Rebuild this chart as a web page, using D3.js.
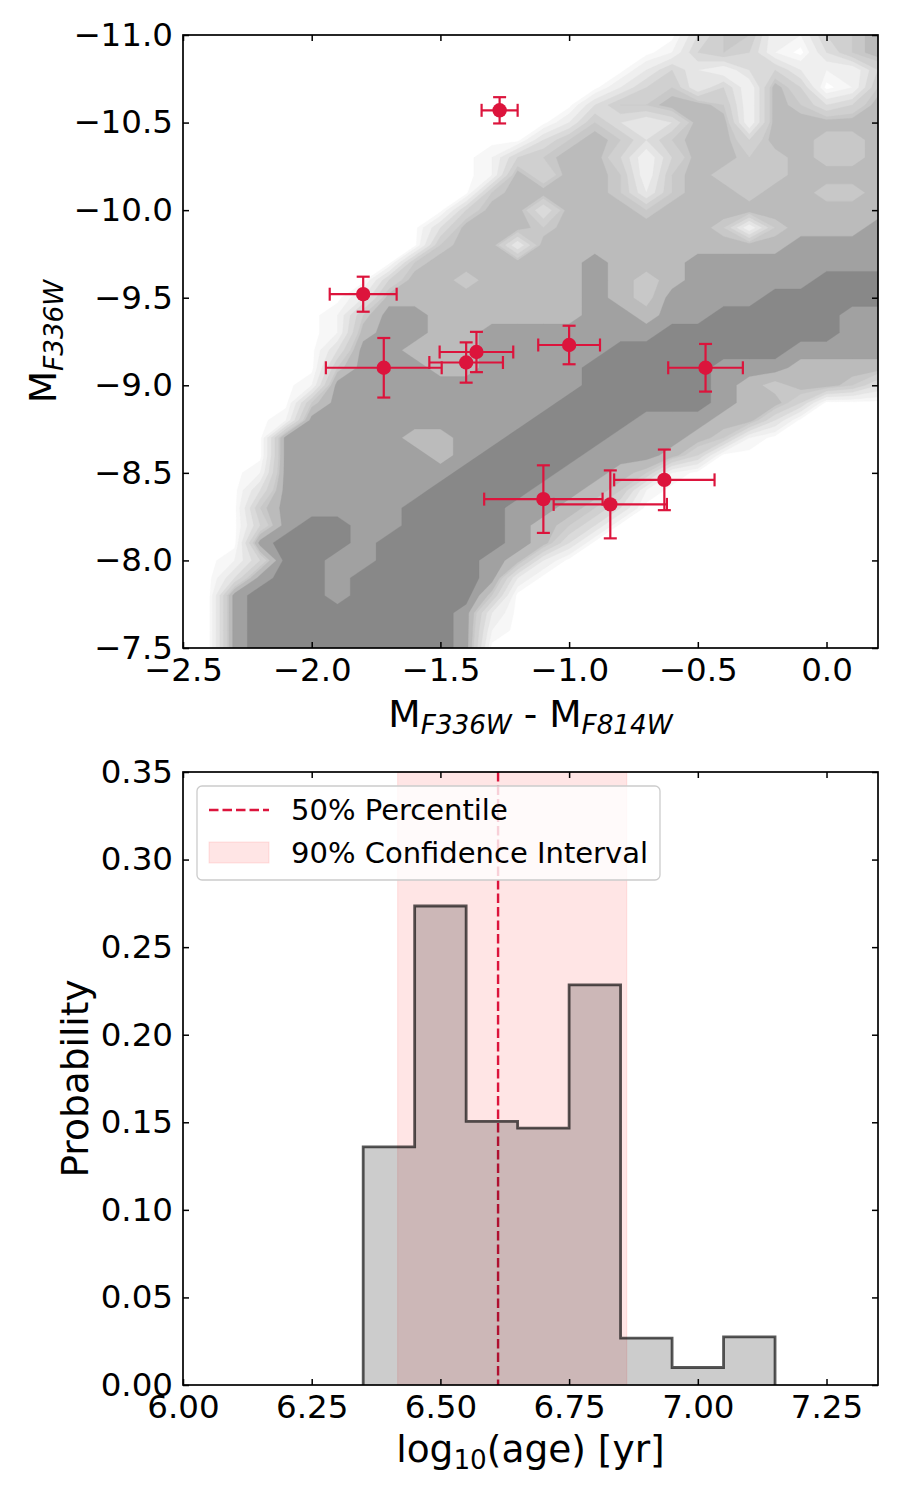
<!DOCTYPE html>
<html><head><meta charset="utf-8">
<script src="https://cdn.jsdelivr.net/npm/d3@7"></script>
<style>body{margin:0;background:#fff} text{font-family:"DejaVu Sans",sans-serif}</style>
</head><body>
<svg id="c" width="900" height="1500" xmlns="http://www.w3.org/2000/svg"></svg>
<script>
// ---------------- DATA ----------------
// Top panel: colour-magnitude diagram
const cmdXTicks = [-2.5, -2.0, -1.5, -1.0, -0.5, 0.0];
const cmdYTicks = [-11.0, -10.5, -10.0, -9.5, -9.0, -8.5, -8.0, -7.5];
const starColour = [-1.27, -1.80, -1.72, -1.40, -1.36, -1.00, -0.47, -1.10, -0.84, -0.63];
const starMag    = [-10.57, -9.52, -9.10, -9.13, -9.19, -9.23, -9.10, -8.35, -8.32, -8.46];
const starColourErr = [0.07, 0.13, 0.225, 0.143, 0.143, 0.12, 0.145, 0.23, 0.22, 0.195];
const starMagErr    = [0.075, 0.10, 0.17, 0.115, 0.115, 0.11, 0.136, 0.193, 0.194, 0.173];
// model density (level per grid node), columns at colour -2.5..0.2 step 0.1,
// rows at magnitude -11.0..-7.5 step 0.1
const gridColour0 = -2.5, gridColourStep = 0.1;
const gridMag0 = -11.0, gridMagStep = 0.1;
const densityRows = [
"0000000000000000000035511456",
"0000000000000000000145410356",
"0000000000000000002421342114",
"0000000000000000024524164015",
"0000000000000000355665165346",
"0000000000000002532366166666",
"0000000000000035653566466556",
"0000000000001456641466556556",
"0000000000001646651565556666",
"0000000000005666652566566556",
"0000000000046636665666666666",
"0000000000366656666665156667",
"0000000000566266666666667777",
"0000000005666666766677777777",
"0000000046656666765677777888",
"0000000266666666765777788888",
"0000001577666666776778888877",
"0000001677667777777888888877",
"0000003776667777788888887777",
"0000005777667777888887776666",
"0000017777777777888887656653",
"0000057777777778888887664000",
"0000177777777788887776630000",
"0000777776677888877765100000",
"0000777777678888777640000000",
"0001777777788887765100000000",
"0003777777888877651000000000",
"0005777778888776530000000000",
"0004788778888765300000000000",
"0007888788888763000000000000",
"0014887788887620000000000000",
"0037887888887200000000000000",
"0078887888885000000000000000",
"0078888888872000000000000000",
"0078888888871000000000000000",
"0078888888870000000000000000"
];
const densityThresholds = [0.3, 1, 2, 3, 4, 5, 5.5, 6.5, 7.5];
const densityColours = ["#f7f7f7", "#efefef", "#e5e5e5", "#dadada", "#d0d0d0", "#c8c8c8", "#bbbbbb", "#a1a1a1", "#888888"];

// Bottom panel: age probability histogram
const ageBinEdges = [6.35, 6.45, 6.55, 6.65, 6.75, 6.85, 6.95, 7.05, 7.15];
const ageProbability = [0.136, 0.2735, 0.1505, 0.1467, 0.2285, 0.0268, 0.0100, 0.0275];
const ageMedian = 6.612;
const ageInterval = [6.417, 6.862];
const ageXTicks = [6.00, 6.25, 6.50, 6.75, 7.00, 7.25];
const probYTicks = [0.00, 0.05, 0.10, 0.15, 0.20, 0.25, 0.30, 0.35];

// ---------------- DRAW ----------------
const svg = d3.select("#c");
const FONT = "DejaVu Sans, sans-serif";
const CRIMSON = "#dc143c";
const TICKFS = 32.5, LABELFS = 37.5, LEGFS = 29;
const DASH = "9.5,4";
const minus = s => s.replace("-", "\u2212");

const A1 = {x0: 183, x1: 878, y0: 35, y1: 648};
const A2 = {x0: 183, x1: 878, y0: 772, y1: 1385};

const xs1 = d3.scaleLinear().domain([-2.5, 0.2]).range([A1.x0, A1.x1]);
const ys1 = d3.scaleLinear().domain([-11, -7.5]).range([A1.y0, A1.y1]);
const xs2 = d3.scaleLinear().domain([6.0, 7.35]).range([A2.x0, A2.x1]);
const ys2 = d3.scaleLinear().domain([0, 0.35]).range([A2.y1, A2.y0]);

const defs = svg.append("defs");
defs.append("clipPath").attr("id", "clip1").append("rect")
  .attr("x", A1.x0).attr("y", A1.y0).attr("width", A1.x1 - A1.x0).attr("height", A1.y1 - A1.y0);
defs.append("clipPath").attr("id", "clip2").append("rect")
  .attr("x", A2.x0).attr("y", A2.y0).attr("width", A2.x1 - A2.x0).attr("height", A2.y1 - A2.y0);

// ---- top: density contours
const nx = densityRows[0].length, ny = densityRows.length;
const values = [];
densityRows.forEach(r => { for (const ch of r) values.push(+ch); });
const contours = d3.contours().size([nx, ny]).thresholds(densityThresholds)(values);
const proj = d3.geoTransform({
  point(cx, cy) {
    this.stream.point(xs1(gridColour0 + (cx - 0.5) * gridColourStep),
                      ys1(gridMag0 + (cy - 0.5) * gridMagStep));
  }
});
const gpath = d3.geoPath(proj);
const g1 = svg.append("g").attr("clip-path", "url(#clip1)");
g1.selectAll("path.ct").data(contours).join("path")
  .attr("class", "ct")
  .attr("d", gpath)
  .attr("fill", (d, i) => densityColours[i])
  .attr("stroke", (d, i) => densityColours[i])
  .attr("stroke-width", 0.3);

// ---- top: stars with error bars
const stars = starColour.map((c, i) => ({c, m: starMag[i], ec: starColourErr[i], em: starMagErr[i]}));
const gs = g1.append("g");
const cap = 6.5;
stars.forEach(s => {
  const g = gs.append("g").attr("stroke", CRIMSON).attr("stroke-width", 2.2).attr("fill", "none");
  g.append("line").attr("x1", xs1(s.c - s.ec)).attr("x2", xs1(s.c + s.ec)).attr("y1", ys1(s.m)).attr("y2", ys1(s.m));
  g.append("line").attr("x1", xs1(s.c)).attr("x2", xs1(s.c)).attr("y1", ys1(s.m - s.em)).attr("y2", ys1(s.m + s.em));
  [s.c - s.ec, s.c + s.ec].forEach(v => g.append("line").attr("x1", xs1(v)).attr("x2", xs1(v)).attr("y1", ys1(s.m) - cap).attr("y2", ys1(s.m) + cap));
  [s.m - s.em, s.m + s.em].forEach(v => g.append("line").attr("y1", ys1(v)).attr("y2", ys1(v)).attr("x1", xs1(s.c) - cap).attr("x2", xs1(s.c) + cap));
});
gs.selectAll("circle").data(stars).join("circle")
  .attr("cx", d => xs1(d.c)).attr("cy", d => ys1(d.m)).attr("r", 7.2).attr("fill", CRIMSON);

// ---- axes helper
function drawAxes(A, xs, ys, xt, yt, xfmt, yfmt) {
  const TL = 6;
  const styleAx = g => {
    g.select(".domain").remove();
    g.selectAll(".tick line").attr("stroke", "#000").attr("stroke-width", 1.5);
    g.selectAll("text").attr("font-size", TICKFS).attr("font-family", FONT).attr("fill", "#000");
  };
  svg.append("g").attr("transform", `translate(0,${A.y1})`)
    .call(d3.axisBottom(xs).tickValues(xt).tickFormat(xfmt).tickSizeInner(-TL).tickSizeOuter(0).tickPadding(10))
    .call(styleAx);
  svg.append("g").attr("transform", `translate(0,${A.y0})`)
    .call(d3.axisTop(xs).tickValues(xt).tickFormat("").tickSizeInner(-TL).tickSizeOuter(0))
    .call(styleAx);
  svg.append("g").attr("transform", `translate(${A.x0},0)`)
    .call(d3.axisLeft(ys).tickValues(yt).tickFormat(yfmt).tickSizeInner(-TL).tickSizeOuter(0).tickPadding(10))
    .call(styleAx);
  svg.append("g").attr("transform", `translate(${A.x1},0)`)
    .call(d3.axisRight(ys).tickValues(yt).tickFormat("").tickSizeInner(-TL).tickSizeOuter(0))
    .call(styleAx);
  svg.append("rect").attr("x", A.x0).attr("y", A.y0).attr("width", A.x1 - A.x0).attr("height", A.y1 - A.y0)
    .attr("fill", "none").attr("stroke", "#000").attr("stroke-width", 1.7);
}

drawAxes(A1, xs1, ys1, cmdXTicks, cmdYTicks, d => minus(d3.format(".1f")(d)), d => minus(d3.format(".1f")(d)));

// top labels
const xl1 = svg.append("text").attr("x", (A1.x0 + A1.x1) / 2).attr("y", 727)
  .attr("text-anchor", "middle").attr("font-size", LABELFS).attr("font-family", FONT);
xl1.append("tspan").text("M");
xl1.append("tspan").attr("font-size", LABELFS * 0.7).attr("font-style", "italic").attr("dy", 7).text("F336W");
xl1.append("tspan").attr("dy", -7).text(" - M");
xl1.append("tspan").attr("font-size", LABELFS * 0.7).attr("font-style", "italic").attr("dy", 7).text("F814W");

const yl1 = svg.append("text").attr("transform", `translate(56,${(A1.y0 + A1.y1) / 2}) rotate(-90)`)
  .attr("text-anchor", "middle").attr("font-size", LABELFS).attr("font-family", FONT);
yl1.append("tspan").text("M");
yl1.append("tspan").attr("font-size", LABELFS * 0.7).attr("font-style", "italic").attr("dy", 7).text("F336W");

// ---- bottom panel
const g2 = svg.append("g").attr("clip-path", "url(#clip2)");
g2.append("rect").attr("x", xs2(ageInterval[0])).attr("y", A2.y0)
  .attr("width", xs2(ageInterval[1]) - xs2(ageInterval[0])).attr("height", A2.y1 - A2.y0)
  .attr("fill", "rgba(255,0,0,0.1)").attr("stroke", "rgba(255,0,0,0.1)").attr("stroke-width", 1);
g2.append("line").attr("x1", xs2(ageMedian)).attr("x2", xs2(ageMedian)).attr("y1", A2.y0).attr("y2", A2.y1)
  .attr("stroke", CRIMSON).attr("stroke-width", 2.4).attr("stroke-dasharray", DASH);

const stepPts = [[ageBinEdges[0], 0]];
ageProbability.forEach((p, i) => { stepPts.push([ageBinEdges[i], p]); stepPts.push([ageBinEdges[i + 1], p]); });
stepPts.push([ageBinEdges[ageBinEdges.length - 1], 0]);
const stepLine = d3.line().x(d => xs2(d[0])).y(d => ys2(d[1]));
g2.append("path").attr("d", stepLine(stepPts) + "Z").attr("fill", "rgba(0,0,0,0.2)").attr("stroke", "none");
g2.append("path").attr("d", stepLine(stepPts)).attr("fill", "none")
  .attr("stroke", "rgba(0,0,0,0.65)").attr("stroke-width", 2.8).attr("stroke-linejoin", "miter");

drawAxes(A2, xs2, ys2, ageXTicks, probYTicks, d3.format(".2f"), d3.format(".2f"));

const xl2 = svg.append("text").attr("x", (A2.x0 + A2.x1) / 2).attr("y", 1462)
  .attr("text-anchor", "middle").attr("font-size", LABELFS).attr("font-family", FONT);
xl2.append("tspan").text("log");
xl2.append("tspan").attr("font-size", LABELFS * 0.7).attr("dy", 7).text("10");
xl2.append("tspan").attr("dy", -7).text("(age) [yr]");

svg.append("text").attr("transform", `translate(88,${(A2.y0 + A2.y1) / 2}) rotate(-90)`)
  .attr("text-anchor", "middle").attr("font-size", LABELFS).attr("font-family", FONT).text("Probability");

// legend
const lg = svg.append("g");
lg.append("rect").attr("x", 197).attr("y", 786).attr("width", 463).attr("height", 94).attr("rx", 5)
  .attr("fill", "rgba(255,255,255,0.8)").attr("stroke", "#cccccc").attr("stroke-width", 1.3);
lg.append("line").attr("x1", 209).attr("x2", 269).attr("y1", 810).attr("y2", 810)
  .attr("stroke", CRIMSON).attr("stroke-width", 2.4).attr("stroke-dasharray", DASH);
lg.append("rect").attr("x", 209).attr("y", 842).attr("width", 60).attr("height", 21)
  .attr("fill", "rgba(255,0,0,0.1)").attr("stroke", "rgba(255,0,0,0.1)");
lg.append("text").attr("x", 291).attr("y", 820).attr("font-size", LEGFS).attr("font-family", FONT).text("50% Percentile");
lg.append("text").attr("x", 291).attr("y", 863).attr("font-size", LEGFS).attr("font-family", FONT).text("90% Confidence Interval");
</script>
</body></html>
